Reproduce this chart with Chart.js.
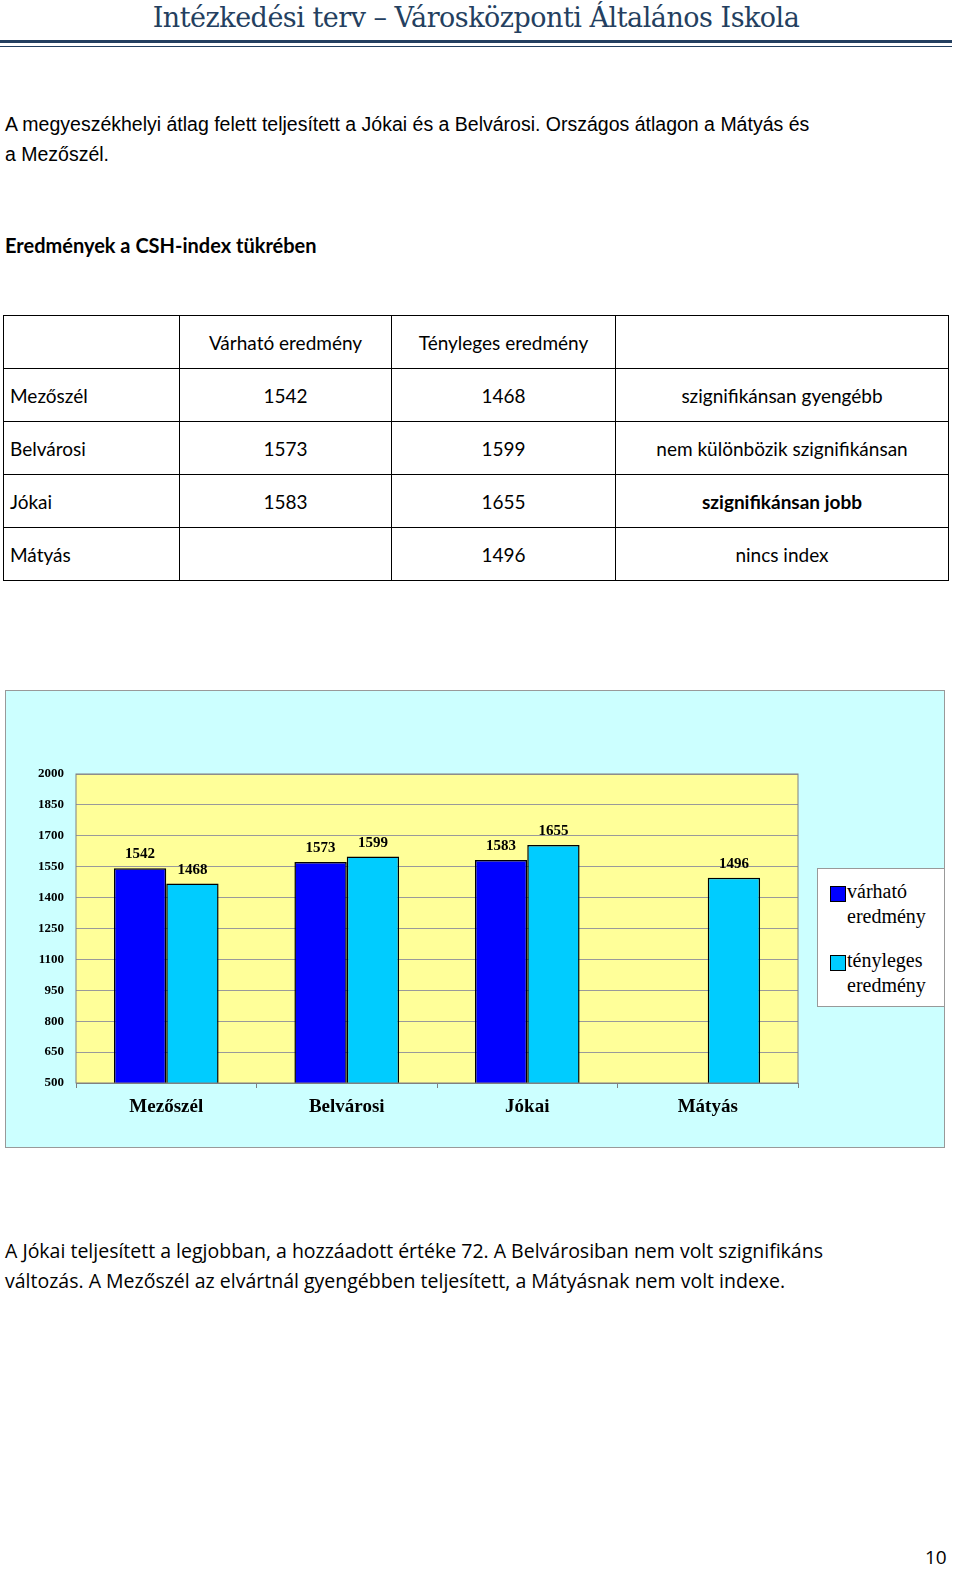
<!DOCTYPE html>
<html>
<head>
<meta charset="utf-8">
<script src="https://cdn.jsdelivr.net/npm/chart.js@4"></script>
<style>
body { margin:0; width:960px; height:1584px; background:#fff; position:relative; font-family:"Liberation Sans", Arial, sans-serif; }
.abs { position:absolute; }
#head { left:0; top:2px; width:952px; text-align:center; font-family:"DejaVu Serif", serif; font-size:27px; color:#243F60; letter-spacing:-0.5px; }
#rule1 { left:0; top:40px; width:952px; height:3px; background:#243F60; }
#rule2 { left:0; top:46px; width:952px; height:1px; background:#243F60; }
.p1 { left:5px; font-size:19.5px; color:#000; }
.title { left:5px; top:233px; font-family:Lato, sans-serif; font-weight:bold; font-size:20px; }
table { position:absolute; left:3px; top:315px; border-collapse:collapse; font-family:Lato, sans-serif; font-size:19px; }
td { border:1px solid #000; height:52px; padding:0 6px; text-align:center; }
td.l { text-align:left; }
#chartbox { left:5px; top:690px; width:940px; height:458px; border:1px solid #999; box-sizing:border-box; background:#CCFFFF; }
#legend { left:817px; top:868px; width:128px; height:139px; background:#fff; border:1px solid #999; box-sizing:border-box; font-family:"Liberation Serif", serif; font-size:20px; line-height:25px; }
.sw { position:absolute; left:12px; width:14px; height:14px; border:1px solid #000; }
.lt { position:absolute; left:29px; }
.p2 { left:5px; font-family:"Open Sans", sans-serif; font-size:19.5px; }
</style>
</head>
<body>
<div class="abs" id="head">Intézkedési terv – Városközponti Általános Iskola</div>
<div class="abs" id="rule1"></div><div class="abs" id="rule2"></div>
<div class="abs p1" style="top:113px">A megyeszékhelyi átlag felett teljesített a Jókai és a Belvárosi. Országos átlagon a Mátyás és</div>
<div class="abs p1" style="top:143px">a Mezőszél.</div>
<div class="abs title">Eredmények a CSH-index tükrében</div>
<table>
<tr><td style="width:163px"></td><td style="width:199px">Várható eredmény</td><td style="width:211px">Tényleges eredmény</td><td style="width:320px"></td></tr>
<tr><td class="l">Mezőszél</td><td>1542</td><td>1468</td><td>szignifikánsan gyengébb</td></tr>
<tr><td class="l">Belvárosi</td><td>1573</td><td>1599</td><td>nem különbözik szignifikánsan</td></tr>
<tr><td class="l">Jókai</td><td>1583</td><td>1655</td><td><b>szignifikánsan jobb</b></td></tr>
<tr><td class="l">Mátyás</td><td></td><td>1496</td><td>nincs index</td></tr>
</table>
<div class="abs" id="chartbox"><canvas id="c" width="938" height="456"></canvas></div>
<div class="abs" id="legend">
  <div class="sw" style="top:17px;background:#0000FF"></div><div class="lt" style="top:10px">várható<br>eredmény</div>
  <div class="sw" style="top:86px;background:#00CCFF"></div><div class="lt" style="top:79px">tényleges<br>eredmény</div>
</div>
<div class="abs p2" style="top:1237px">A Jókai teljesített a legjobban, a hozzáadott értéke 72. A Belvárosiban nem volt szignifikáns</div>
<div class="abs p2" style="top:1267px">változás. A Mezőszél az elvártnál gyengébben teljesített, a Mátyásnak nem volt indexe.</div>
<div class="abs" style="left:925px;top:1544px;font-family:'Open Sans',sans-serif;font-size:19px">10</div>
<script>
const schools = ['Mezőszél', 'Belvárosi', 'Jókai', 'Mátyás'];
const expected = [1542, 1573, 1583, null];
const actual = [1468, 1599, 1655, 1496];
const yTicks = [500, 650, 800, 950, 1100, 1250, 1400, 1550, 1700, 1850, 2000];

// yellow plot background and value labels
const plotBg = {
    id: 'plotBg',
    beforeDraw(chart) {
        const a = chart.chartArea, ctx = chart.ctx;
        ctx.save();
        ctx.fillStyle = '#FFFF99';
        ctx.fillRect(a.left, a.top, a.width, a.height);
        ctx.restore();
    },
    afterDatasetsDraw(chart) {
        const ctx = chart.ctx;
        ctx.save();
        ctx.font = 'bold 15px "Liberation Serif", serif';
        ctx.fillStyle = '#000';
        ctx.textAlign = 'center';
        chart.data.datasets.forEach((ds, i) => {
            chart.getDatasetMeta(i).data.forEach((bar, j) => {
                if (ds.data[j] == null) return;
                ctx.fillText(ds.data[j], bar.x, bar.y - 10);
            });
        });
        ctx.strokeStyle = '#808080';
        const a = chart.chartArea;
        ctx.strokeRect(a.left, a.top, a.width, a.height);
        ctx.restore();
    }
};

const ctx = document.getElementById('c').getContext('2d');
new Chart(ctx, {
    type: 'bar',
    data: {
        labels: schools,
        datasets: [
            { label: 'várható eredmény', data: expected, backgroundColor: '#0000FF', borderColor: '#000', borderWidth: 1.5 },
            { label: 'tényleges eredmény', data: actual, backgroundColor: '#00CCFF', borderColor: '#000', borderWidth: 1.5 }
        ]
    },
    options: {
        responsive: false,
        animation: false,
        layout: { padding: { top: 83, right: 146, left: 0, bottom: 0 } },
        categoryPercentage: 0.58,
        barPercentage: 1,
        plugins: { legend: { display: false }, tooltip: { enabled: false } },
        scales: {
            y: {
                min: 500, max: 2000,
                afterBuildTicks: s => { s.ticks = yTicks.map(v => ({ value: v })); },
                afterFit: s => { s.width = 70; },
                ticks: { color: '#000', font: { family: '"Liberation Serif", serif', weight: 'bold', size: 13 }, padding: 12, callback: v => String(v) },
                grid: { color: '#9a9a9a', drawTicks: false },
                border: { display: false }
            },
            x: {
                afterFit: s => { s.height = 64; },
                ticks: { color: '#000', font: { family: '"Liberation Serif", serif', weight: 'bold', size: 19 }, padding: 8 },
                grid: { display: true, offset: true, drawOnChartArea: false, color: '#808080', tickLength: 5 },
                border: { color: '#808080' }
            }
        }
    },
    plugins: [plotBg]
});
</script>
</body>
</html>
